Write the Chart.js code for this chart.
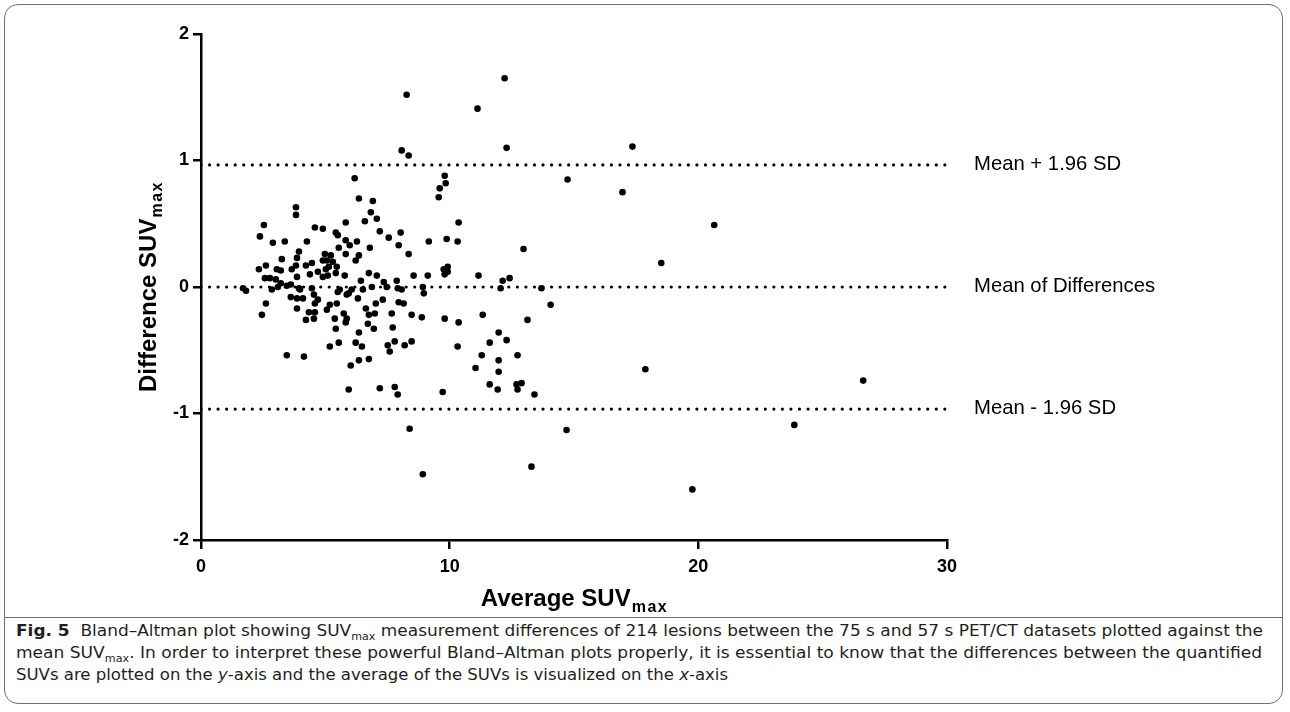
<!DOCTYPE html>
<html>
<head>
<meta charset="utf-8">
<script src="https://cdn.jsdelivr.net/npm/chart.js@4.4.1/dist/chart.umd.min.js"></script>
<style>
  html,body{margin:0;padding:0;background:#fff;}
  body{width:1290px;height:712px;position:relative;overflow:hidden;}
  #frame{position:absolute;left:4px;top:4px;width:1279px;height:700px;border:1.5px solid #6f6f6f;border-radius:14px;box-sizing:border-box;}
  #sep{position:absolute;left:4px;top:617px;width:1279px;border-top:1.5px solid #6f6f6f;}
  #wrap{position:absolute;left:0;top:0;width:1290px;height:616px;}
  #cap{position:absolute;left:16px;top:620px;width:1262px;font-family:"Liberation Sans Narrow","DejaVu Sans Condensed","Liberation Sans",sans-serif;font-size:16px;line-height:22px;color:#231f20;white-space:nowrap;}
  #cap .ln{display:block;transform-origin:0 50%;}
  #cap sub{font-size:10.5px;vertical-align:-4px;line-height:0;}
  #cap b{font-weight:bold;}
</style>
</head>
<body>
<div id="frame"></div>
<div id="sep"></div>
<div id="wrap"><canvas id="c" width="1290" height="616"></canvas></div>
<div id="cap">
  <span class="ln" data-w="1247"><b>Fig. 5</b>&nbsp; Bland–Altman plot showing SUV<sub>max</sub> measurement differences of 214 lesions between the 75 s and 57 s PET/CT datasets plotted against the</span>
  <span class="ln" data-w="1246">mean SUV<sub>max</sub>. In order to interpret these powerful Bland–Altman plots properly, it is essential to know that the differences between the quantified</span>
  <span class="ln" data-w="712">SUVs are plotted on the <i>y</i>-axis and the average of the SUVs is visualized on the <i>x</i>-axis</span>
</div>
<script>
// ---- data ----
const avgSUV = [
  1.69,1.81,3.82,3.82,2.53,2.37,2.89,3.37,3.94,3.25,3.86,3.82,2.33,2.61,3.05,3.21,3.65,3.86,2.57,2.77,
  3.01,3.21,3.45,3.61,2.85,3.98,3.61,3.86,2.61,2.45,3.86,3.45,4.10,3.09,3.94,4.22,4.14,4.34,4.22,
  8.07,8.35,8.27,11.12,6.18,9.80,9.84,9.60,9.56,6.35,6.91,6.83,6.59,7.07,5.82,10.36,4.58,4.90,7.19,5.42,
  5.50,8.03,7.55,4.26,5.82,5.98,6.27,5.54,7.95,9.16,9.88,10.32,6.79,5.82,8.35,6.35,6.22,4.98,5.22,5.06,
  4.90,5.30,4.46,5.46,5.14,4.70,5.02,4.38,4.90,5.10,5.42,5.78,6.75,7.07,8.55,9.12,9.76,9.92,9.80,9.92,
  11.16,6.43,7.35,7.87,4.46,7.91,8.07,
  5.50,5.58,5.94,6.06,6.51,6.87,7.47,8.92,8.96,4.54,4.70,4.58,5.86,6.31,7.31,7.03,7.95,8.15,5.18,5.46,
  5.06,4.58,4.54,5.38,5.74,6.63,6.75,6.99,7.67,8.47,8.88,9.80,10.36,5.82,5.86,6.71,5.42,7.71,6.95,6.35,
  5.18,5.54,6.22,6.47,7.51,7.59,7.79,8.19,8.47,10.32,6.02,6.35,6.75,11.04,5.94,7.19,7.79,7.91,9.72,8.39,
  8.92,11.33,11.97,11.61,11.29,11.97,11.97,11.61,11.93,
  12.21,12.29,14.74,12.97,12.13,12.41,12.05,13.69,14.06,13.13,12.29,12.73,12.69,12.89,12.73,13.41,14.70,13.29,
  17.35,16.95,20.64,18.51,17.87,26.63,23.86,19.76
];
const diffSUV = [
  -0.01,-0.03,0.63,0.57,0.49,0.40,0.35,0.36,0.28,0.22,0.23,0.17,0.14,0.17,0.14,0.13,0.14,0.08,0.07,0.07,
  0.06,0.03,0.01,0.02,-0.02,-0.02,-0.08,-0.09,-0.13,-0.22,-0.17,-0.54,-0.09,0.00,-0.01,0.17,-0.55,-0.20,-0.26,
  1.08,1.04,1.52,1.41,0.86,0.88,0.82,0.78,0.71,0.70,0.68,0.59,0.52,0.54,0.51,0.51,0.47,0.46,0.44,0.43,
  0.41,0.43,0.39,0.36,0.37,0.33,0.36,0.31,0.33,0.36,0.38,0.36,0.31,0.26,0.26,0.25,0.21,0.26,0.25,0.21,
  0.21,0.20,0.19,0.16,0.16,0.12,0.14,0.10,0.08,0.09,0.11,0.09,0.11,0.09,0.09,0.09,0.14,0.16,0.10,0.12,
  0.09,0.05,0.04,0.05,-0.01,-0.01,-0.02,
  -0.04,-0.02,-0.05,-0.02,-0.02,0.00,0.00,0.00,-0.05,-0.06,-0.10,-0.13,-0.06,-0.09,-0.10,-0.13,-0.12,-0.13,-0.14,-0.13,
  -0.18,-0.20,-0.25,-0.25,-0.21,-0.17,-0.22,-0.21,-0.21,-0.22,-0.24,-0.25,-0.28,-0.28,-0.25,-0.29,-0.33,-0.32,-0.33,-0.36,
  -0.47,-0.44,-0.44,-0.47,-0.46,-0.51,-0.43,-0.46,-0.43,-0.47,-0.62,-0.58,-0.57,-0.64,-0.81,-0.80,-0.79,-0.85,-0.83,-1.12,
  -1.48,-0.22,-0.36,-0.44,-0.54,-0.58,-0.67,-0.77,-0.81,
  1.65,1.10,0.85,0.30,0.05,0.07,-0.01,-0.01,-0.14,-0.26,-0.42,-0.54,-0.77,-0.76,-0.81,-0.85,-1.13,-1.42,
  1.11,0.75,0.49,0.19,-0.65,-0.74,-1.09,-1.60
];
const meanDiff = 0.0;
const upperLoA = 0.965;
const lowerLoA = -0.965;
const lineLabels = ["Mean + 1.96 SD", "Mean of Differences", "Mean - 1.96 SD"];
const xTicks = [0, 10, 20, 30];
const yTicks = [-2, -1, 0, 1, 2];
const xRange = [0, 30];
const yRange = [-2, 2];

const pts = avgSUV.map((x, i) => ({x: x, y: diffSUV[i]}));
function hline(v){ return [{x: xRange[0], y: v}, {x: xRange[1], y: v}]; }
const lineDefs = [upperLoA, meanDiff, lowerLoA];

const lineStyle = {
  type: 'line', borderColor: '#000', borderWidth: 3.2, borderDash: [0, 8.55],
  borderCapStyle: 'round', pointRadius: 0, fill: false, showLine: true, order: 2
};

const titlePlugin = {
  id: 'titles',
  afterDraw(chart) {
    const ctx = chart.ctx, ca = chart.chartArea, ys = chart.scales.y;
    ctx.save();
    ctx.fillStyle = '#000';
    ctx.font = '20.3px "Liberation Sans", Arial, sans-serif';
    ctx.textBaseline = 'middle';
    ctx.textAlign = 'left';
    lineDefs.forEach((v, i) => {
      ctx.fillText(lineLabels[i], ca.right + 27, ys.getPixelForValue(v) - 1);
    });
    function drawTitle(main, sub, cx, cy) {
      ctx.font = 'bold 24px "Liberation Sans", Arial, sans-serif';
      const w1 = ctx.measureText(main).width;
      ctx.font = 'bold 16px "Liberation Sans", Arial, sans-serif';
      ctx.letterSpacing = '1.5px';
      const w2 = ctx.measureText(sub).width;
      ctx.letterSpacing = '0px';
      const x0 = cx - (w1 + w2) / 2;
      ctx.textAlign = 'left';
      ctx.textBaseline = 'alphabetic';
      ctx.font = 'bold 24px "Liberation Sans", Arial, sans-serif';
      ctx.fillText(main, x0, cy + 8);
      ctx.font = 'bold 16px "Liberation Sans", Arial, sans-serif';
      ctx.letterSpacing = '1.5px';
      ctx.fillText(sub, x0 + w1 + 1, cy + 14);
      ctx.letterSpacing = '0px';
    }
    drawTitle('Average SUV', 'max', (ca.left + ca.right) / 2, 598);
    ctx.save();
    ctx.translate(148, (ca.top + ca.bottom) / 2);
    ctx.rotate(-Math.PI / 2);
    drawTitle('Difference SUV', 'max', 0, 0);
    ctx.restore();
    ctx.restore();
  }
};

const tickFont = {family: '"Liberation Sans", Arial, sans-serif', size: 18, weight: 'bold'};

new Chart(document.getElementById('c'), {
  type: 'scatter',
  data: {
    datasets: [
      {label: 'diff', data: pts, pointRadius: 3.3, pointHoverRadius: 3.3, backgroundColor: '#000', borderWidth: 0, order: 1},
      Object.assign({label: 'upper', data: hline(upperLoA)}, lineStyle),
      Object.assign({label: 'mean', data: hline(meanDiff)}, lineStyle),
      Object.assign({label: 'lower', data: hline(lowerLoA)}, lineStyle)
    ]
  },
  options: {
    responsive: false,
    animation: false,
    events: [],
    layout: {padding: {top: 34, right: 343, bottom: 0, left: 0}},
    plugins: {legend: {display: false}, tooltip: {enabled: false}},
    scales: {
      x: {
        type: 'linear', min: xRange[0], max: xRange[1],
        afterBuildTicks: s => { s.ticks = xTicks.map(v => ({value: v})); },
        ticks: {color: '#000', font: tickFont, padding: 7, maxRotation: 0},
        grid: {drawOnChartArea: false, drawTicks: true, tickLength: 9, color: '#000', lineWidth: 2.5},
        border: {display: true, color: '#000', width: 2.5},
        afterFit: s => { s.height = 76; }
      },
      y: {
        type: 'linear', min: yRange[0], max: yRange[1],
        afterBuildTicks: s => { s.ticks = yTicks.map(v => ({value: v})); },
        ticks: {color: '#000', font: tickFont, padding: 4},
        grid: {drawOnChartArea: false, drawTicks: true, tickLength: 8, color: '#000', lineWidth: 2.5},
        border: {display: true, color: '#000', width: 2.5},
        afterFit: s => { s.width = 201; }
      }
    }
  },
  plugins: [titlePlugin]
});

document.querySelectorAll('#cap .ln').forEach(el => {
  const target = parseFloat(el.dataset.w);
  el.style.display = 'inline-block';
  const w = el.getBoundingClientRect().width;
  el.style.display = 'block';
  if (w > 0) el.style.transform = 'scaleX(' + (target / w).toFixed(4) + ')';
});
</script>
</body>
</html>
